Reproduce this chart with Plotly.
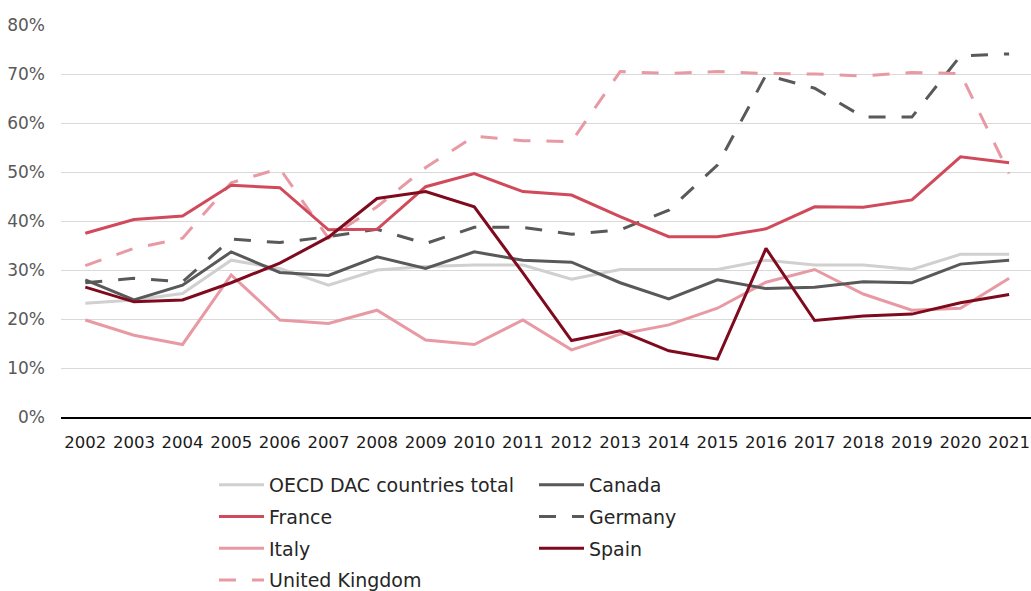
import plotly.graph_objects as go

years = [str(y) for y in range(2002, 2022)]

oecd_total = [23.2, 23.9, 25.2, 32.0, 30.3, 26.9, 30.0, 30.7, 31.0, 31.0,
              28.1, 30.1, 30.1, 30.1, 32.0, 31.0, 31.0, 30.1, 33.2, 33.2]
canada = [28.0, 23.9, 26.9, 33.7, 29.5, 28.9, 32.7, 30.3, 33.7, 32.0,
          31.6, 27.4, 24.1, 28.0, 26.2, 26.5, 27.6, 27.4, 31.2, 32.0]
france = [37.5, 40.3, 41.0, 47.3, 46.8, 38.2, 38.3, 47.0, 49.7, 46.0,
          45.3, 40.9, 36.8, 36.8, 38.4, 42.9, 42.8, 44.3, 53.1, 51.9]
germany = [27.4, 28.3, 27.6, 36.3, 35.6, 36.8, 38.3, 35.4, 38.7, 38.7,
           37.3, 38.2, 42.2, 51.4, 69.8, 67.1, 61.2, 61.2, 73.7, 74.1]
italy = [19.8, 16.7, 14.8, 29.0, 19.8, 19.1, 21.8, 15.7, 14.8, 19.8,
         13.7, 16.9, 18.8, 22.2, 27.5, 30.1, 25.1, 21.8, 22.2, 28.3]
spain = [26.5, 23.5, 23.9, 27.4, 31.4, 36.7, 44.6, 46.0, 42.9, 29.4,
         15.6, 17.6, 13.5, 11.8, 34.4, 19.7, 20.6, 21.0, 23.3, 25.0]
united_kingdom = [30.9, 34.4, 36.5, 47.8, 50.7, 36.5, 42.9, 50.9, 57.3, 56.4,
                  56.2, 70.5, 70.1, 70.5, 70.1, 70.0, 69.6, 70.3, 70.1, 49.7]

y_ticks = [0, 10, 20, 30, 40, 50, 60, 70, 80]

FONT = "DejaVu Sans"

# (name, values, colour, dash, legend column)
series = [
    ("OECD DAC countries total", oecd_total, "#D0D0D0", "solid", "legend"),
    ("Canada", canada, "#595959", "solid", "legend2"),
    ("France", france, "#D04A5B", "solid", "legend"),
    ("Germany", germany, "#595959", "17px,16px", "legend2"),
    ("Italy", italy, "#E89AA4", "solid", "legend"),
    ("Spain", spain, "#7F0A1E", "solid", "legend2"),
    ("United Kingdom", united_kingdom, "#E89AA4", "17px,16px", "legend"),
]

# drawing order: back to front
draw_order = ["OECD DAC countries total", "Italy", "Canada", "Germany",
              "United Kingdom", "France", "Spain"]
legend_rank = {s[0]: i for i, s in enumerate(series)}
lookup = {s[0]: s for s in series}

fig = go.Figure()
for name in draw_order:
    _, vals, color, dash, leg = lookup[name]
    fig.add_trace(go.Scatter(
        x=years, y=vals, name=name, mode="lines",
        line=dict(color=color, width=3, dash=dash),
        legend=leg, legendgroup=name, legendrank=legend_rank[name],
        hovertemplate="%{x}: %{y:.1f}%<extra>" + name + "</extra>",
    ))

legend_common = dict(
    orientation="v", yanchor="top", xanchor="left",
    font=dict(family=FONT, size=19, color="#262626"),
    bgcolor="rgba(0,0,0,0)", itemwidth=45, tracegroupgap=4,
    traceorder="grouped", itemclick=False, itemdoubleclick=False,
)

PLOT_W = 970
PLOT_H = 392
legend_y = -(466 - 417) / PLOT_H

fig.update_layout(
    width=1031, height=591,
    margin=dict(l=61, r=0, t=25, b=174, autoexpand=False),
    paper_bgcolor="white", plot_bgcolor="white",
    font=dict(family=FONT, size=17, color="#262626"),
    xaxis=dict(
        type="category", range=[-0.5, 19.45],
        showgrid=False, showline=True, linecolor="#000000", linewidth=1.5,
        ticks="", tickfont=dict(family=FONT, size=16.5, color="#1A1A1A"),
        ticklabelstandoff=9, fixedrange=True,
    ),
    yaxis=dict(
        range=[0, 80], tickvals=y_ticks,
        ticktext=[f"{v}%" for v in y_ticks],
        showgrid=True, gridcolor="#D9D9D9", gridwidth=1.3,
        zeroline=False, showline=False, ticks="",
        tickfont=dict(family=FONT, size=17, color="#595959"),
        ticklabelstandoff=15, fixedrange=True,
    ),
    legend=dict(x=(214 - 61) / PLOT_W, y=legend_y, **legend_common),
    legend2=dict(x=(534 - 61) / PLOT_W, y=legend_y, **legend_common),
    showlegend=True,
)

fig.write_html("out.html")
